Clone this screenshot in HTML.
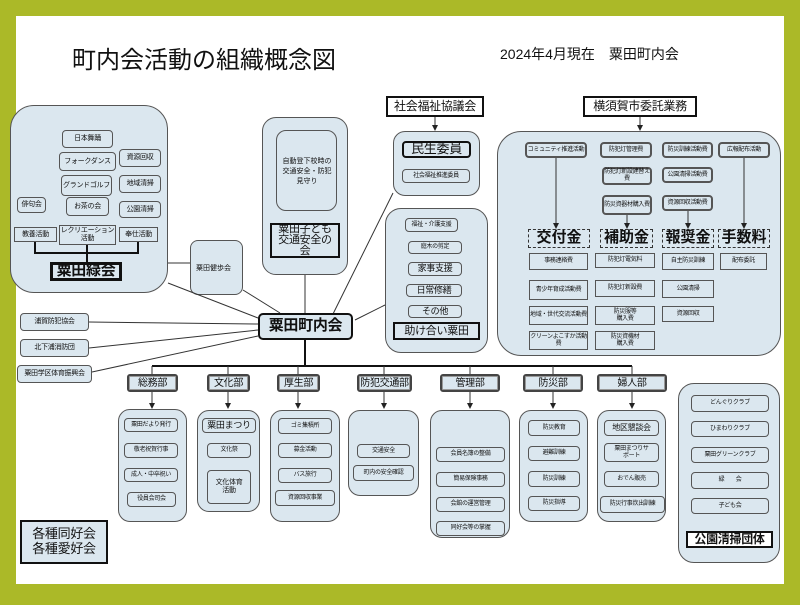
<!DOCTYPE html>
<html><head><meta charset="utf-8"><style>
*{margin:0;padding:0}
body{width:800px;height:605px;position:relative;background:#abb928;font-family:"Liberation Sans","Noto Sans CJK JP",sans-serif;overflow:hidden;color:#111}
#in{position:absolute;left:16px;top:16px;width:768px;height:568px;background:#fff}
.g{position:absolute;box-sizing:border-box;border:1px solid #555;border-radius:16px;background:#dbe7ef;z-index:1}
.b{position:absolute;box-sizing:border-box;display:flex;align-items:center;justify-content:center;text-align:center;border:1px solid #555;border-radius:4px;background:#dbe7ef;font-size:7px;line-height:1.1;z-index:3;letter-spacing:-0.3px}
.t{border:2px solid #111;border-radius:0;font-weight:bold}
.d{border:1px dashed #333;border-radius:0;background:#dbe7ef;font-size:15px;font-weight:bold;letter-spacing:0}
.dept{border:2px solid #444;border-radius:3px;font-size:10px;box-shadow:inset 0 0 0 1px #999}
.nw{white-space:nowrap}
svg{position:absolute;left:0;top:0;z-index:2}
.tx{position:absolute;z-index:3;white-space:nowrap}
</style></head><body>
<div id="in"></div>
<div class="tx" style="left:72px;top:40px;font-size:24px;">町内会活動の組織概念図</div>
<div class="tx" style="left:500px;top:44px;font-size:14px;">2024年4月現在　粟田町内会</div>

<div class="g" style="left:10px;top:105px;width:158px;height:188px;border-radius:24px"></div>
<div class="g" style="left:190px;top:240px;width:53px;height:55px;border-radius:8px"></div>
<div class="g" style="left:262px;top:117px;width:86px;height:158px;border-radius:14px"></div>
<div class="g" style="left:276px;top:130px;width:61px;height:81px;border-radius:10px"></div>
<div class="g" style="left:393px;top:131px;width:87px;height:65px;border-radius:12px"></div>
<div class="g" style="left:385px;top:208px;width:103px;height:145px;border-radius:16px"></div>
<div class="g" style="left:497px;top:131px;width:284px;height:225px;border-radius:24px"></div>
<div class="g" style="left:118px;top:409px;width:69px;height:113px;border-radius:12px"></div>
<div class="g" style="left:197px;top:410px;width:63px;height:102px;border-radius:12px"></div>
<div class="g" style="left:270px;top:410px;width:70px;height:112px;border-radius:12px"></div>
<div class="g" style="left:348px;top:410px;width:71px;height:86px;border-radius:12px"></div>
<div class="g" style="left:430px;top:410px;width:80px;height:128px;border-radius:12px"></div>
<div class="g" style="left:519px;top:410px;width:69px;height:112px;border-radius:12px"></div>
<div class="g" style="left:597px;top:410px;width:69px;height:112px;border-radius:12px"></div>
<div class="g" style="left:678px;top:383px;width:102px;height:180px;border-radius:16px"></div>

<svg width="800" height="605" viewBox="0 0 800 605" fill="none" stroke="#333" stroke-width="1">
<defs><marker id="a" markerWidth="6" markerHeight="6" refX="5" refY="3" orient="auto"><path d="M0,0 L6,3 L0,6z" fill="#222" stroke="none"/></marker></defs>
<path d="M35,242 V253 H138 V242 M87,245 V262" stroke="#111" stroke-width="2"/>
<path d="M168,263 H190"/>
<path d="M243,290 L280,313 M168,283 L258,318 M89,322 L258,324 M89,348 L258,330 M92,372 L258,336 M305,275 V313 M333,314 L393,193 M355,320 L385,305"/>
<path d="M305,340 V366 M152,366 H632" stroke="#111" stroke-width="2"/>
<path d="M152,366 V375 M228,366 V375 M298,366 V375 M384,366 V375 M470,366 V375 M553,366 V375 M632,366 V375"/>
<g marker-end="url(#a)">
<path d="M152,392 V408"/><path d="M228,392 V408"/><path d="M298,392 V408"/><path d="M384,392 V408"/><path d="M470,392 V408"/><path d="M553,392 V408"/><path d="M632,392 V408"/>
<path d="M435,116 V130"/><path d="M640,116 V130"/>
<path d="M556,158 V228"/><path d="M627,215 V228"/><path d="M688,211 V228"/><path d="M744,158 V228"/>
</g>
</svg>

<div class="b nw" style="left:62px;top:130px;width:51px;height:18px">日本舞踊</div>
<div class="b nw" style="left:59px;top:152px;width:57px;height:19px">フォークダンス</div>
<div class="b nw" style="left:119px;top:149px;width:42px;height:18px">資源回収</div>
<div class="b" style="left:61px;top:175px;width:51px;height:21px">グランドゴルフ</div>
<div class="b nw" style="left:119px;top:175px;width:42px;height:18px">地域清掃</div>
<div class="b nw" style="left:17px;top:197px;width:29px;height:16px">俳句会</div>
<div class="b nw" style="left:66px;top:197px;width:43px;height:19px">お茶の会</div>
<div class="b nw" style="left:119px;top:201px;width:42px;height:17px">公園清掃</div>
<div class="b nw" style="left:14px;top:227px;width:43px;height:15px;border-radius:0">教養活動</div>
<div class="b" style="left:59px;top:225px;width:57px;height:20px;border-radius:0">レクリエーション活動</div>
<div class="b nw" style="left:119px;top:227px;width:39px;height:15px;border-radius:0">奉仕活動</div>
<div class="b t nw" style="left:50px;top:262px;width:72px;height:19px;font-size:15px;border-width:3px">粟田緑会</div>
<div class="tx" style="left:196px;top:263px;font-size:7px">粟田健歩会</div>

<div class="tx" style="left:280px;top:157px;font-size:7px;text-align:center;width:54px;white-space:normal;line-height:1.4">自動登下校時の交通安全・防犯見守り</div>
<div class="b t" style="left:270px;top:223px;width:70px;height:35px;font-size:11px;font-weight:normal;line-height:0.98">粟田子ども<br>交通安全の<br>会</div>

<div class="b t nw" style="left:386px;top:96px;width:98px;height:21px;font-size:12px;font-weight:normal;background:#fff">社会福祉協議会</div>
<div class="b t nw" style="left:402px;top:141px;width:69px;height:17px;font-size:13px;border-radius:4px;font-weight:normal">民生委員</div>
<div class="b nw" style="left:402px;top:169px;width:68px;height:14px;font-size:6px">社会福祉推進委員</div>
<div class="b nw" style="left:405px;top:218px;width:53px;height:14px;font-size:6px">福祉・介護支援</div>
<div class="b nw" style="left:408px;top:241px;width:54px;height:13px;font-size:6px">庭木の剪定</div>
<div class="b nw" style="left:408px;top:262px;width:54px;height:14px;font-size:9px">家事支援</div>
<div class="b nw" style="left:406px;top:284px;width:56px;height:13px;font-size:9px">日常修繕</div>
<div class="b nw" style="left:408px;top:305px;width:54px;height:13px;font-size:9px">その他</div>
<div class="b t nw" style="left:393px;top:322px;width:87px;height:18px;font-size:11px;font-weight:normal">助け合い粟田</div>

<div class="b nw" style="left:258px;top:313px;width:95px;height:27px;font-size:15px;font-weight:bold;border:2px solid #111;border-radius:5px">粟田町内会</div>
<div class="b nw" style="left:20px;top:313px;width:69px;height:18px">浦賀防犯協会</div>
<div class="b nw" style="left:20px;top:339px;width:69px;height:18px">北下浦消防団</div>
<div class="b nw" style="left:17px;top:365px;width:75px;height:18px">粟田学区体育振興会</div>

<div class="b t nw" style="left:583px;top:96px;width:114px;height:21px;font-size:12px;font-weight:normal;background:#fff">横須賀市委託業務</div>
<div class="b" style="left:525px;top:142px;width:62px;height:16px;font-size:6px;border-width:2px">コミュニティ推進活動</div>
<div class="b nw" style="left:600px;top:142px;width:52px;height:16px;font-size:6px;border-width:2px">防犯灯管理費</div>
<div class="b" style="left:662px;top:142px;width:51px;height:16px;font-size:6px;border-width:2px">防災訓練活動費</div>
<div class="b nw" style="left:718px;top:142px;width:52px;height:16px;font-size:6px;border-width:2px">広報配布活動</div>
<div class="b" style="left:602px;top:167px;width:50px;height:18px;font-size:6px;border-width:2px">防犯灯新設建替え費</div>
<div class="b" style="left:662px;top:167px;width:51px;height:16px;font-size:6px;border-width:2px">公園清掃活動費</div>
<div class="b" style="left:602px;top:195px;width:50px;height:20px;font-size:6px;border-width:2px">防災資器材購入費</div>
<div class="b" style="left:662px;top:195px;width:51px;height:16px;font-size:6px;border-width:2px">資源回収活動費</div>
<div class="b d nw" style="left:528px;top:229px;width:62px;height:19px">交付金</div>
<div class="b d nw" style="left:600px;top:229px;width:53px;height:19px">補助金</div>
<div class="b d nw" style="left:662px;top:229px;width:52px;height:19px">報奨金</div>
<div class="b d nw" style="left:718px;top:229px;width:52px;height:19px">手数料</div>
<div class="b nw" style="left:529px;top:253px;width:59px;height:17px;border-radius:0;font-size:6px">事務連絡費</div>
<div class="b" style="left:529px;top:280px;width:59px;height:20px;border-radius:0;font-size:6px">青少年育成活動費</div>
<div class="b" style="left:529px;top:306px;width:59px;height:19px;border-radius:0;font-size:6px">地域・世代交流活動費</div>
<div class="b" style="left:529px;top:331px;width:59px;height:19px;border-radius:0;font-size:6px">クリーンよこすか活動費</div>
<div class="b nw" style="left:595px;top:253px;width:60px;height:15px;border-radius:0;font-size:6px">防犯灯電気料</div>
<div class="b nw" style="left:595px;top:280px;width:60px;height:17px;border-radius:0;font-size:6px">防犯灯新設費</div>
<div class="b" style="left:595px;top:306px;width:60px;height:19px;border-radius:0;font-size:6px">防災服等<br>購入費</div>
<div class="b" style="left:595px;top:331px;width:60px;height:19px;border-radius:0;font-size:6px">防災資機材<br>購入費</div>
<div class="b nw" style="left:662px;top:253px;width:52px;height:17px;border-radius:0;font-size:6px">自主防災訓練</div>
<div class="b nw" style="left:662px;top:280px;width:52px;height:18px;border-radius:0;font-size:6px">公園清掃</div>
<div class="b nw" style="left:662px;top:306px;width:52px;height:16px;border-radius:0;font-size:6px">資源回収</div>
<div class="b nw" style="left:720px;top:253px;width:47px;height:17px;border-radius:0;font-size:6px">配布委託</div>

<div class="b dept nw" style="left:127px;top:374px;width:51px;height:18px">総務部</div>
<div class="b dept nw" style="left:207px;top:374px;width:43px;height:18px">文化部</div>
<div class="b dept nw" style="left:277px;top:374px;width:43px;height:18px">厚生部</div>
<div class="b dept nw" style="left:357px;top:374px;width:55px;height:18px">防犯交通部</div>
<div class="b dept nw" style="left:440px;top:374px;width:60px;height:18px">管理部</div>
<div class="b dept nw" style="left:523px;top:374px;width:60px;height:18px">防災部</div>
<div class="b dept nw" style="left:597px;top:374px;width:70px;height:18px">婦人部</div>

<div class="b nw" style="left:124px;top:418px;width:54px;height:14px;font-size:6px">粟田だより発行</div>
<div class="b nw" style="left:124px;top:443px;width:54px;height:15px;font-size:6px">敬老祝賀行事</div>
<div class="b nw" style="left:124px;top:468px;width:54px;height:14px;font-size:6px">成人・中卒祝い</div>
<div class="b nw" style="left:127px;top:492px;width:49px;height:15px;font-size:6px">役員会司会</div>
<div class="b nw" style="left:202px;top:418px;width:54px;height:15px;font-size:9px">粟田まつり</div>
<div class="b nw" style="left:207px;top:443px;width:44px;height:15px;font-size:6px">文化祭</div>
<div class="b" style="left:207px;top:470px;width:44px;height:34px;font-size:7px">文化体育<br>活動</div>
<div class="b nw" style="left:278px;top:418px;width:54px;height:16px;font-size:6px">ゴミ集積所</div>
<div class="b nw" style="left:278px;top:443px;width:54px;height:15px;font-size:6px">募金活動</div>
<div class="b nw" style="left:278px;top:468px;width:54px;height:15px;font-size:6px">バス旅行</div>
<div class="b nw" style="left:275px;top:490px;width:60px;height:16px;font-size:6px">資源回収事業</div>
<div class="b nw" style="left:357px;top:444px;width:53px;height:14px;font-size:6px">交通安全</div>
<div class="b nw" style="left:353px;top:465px;width:61px;height:16px;font-size:6px">町内の安全確認</div>
<div class="b nw" style="left:436px;top:447px;width:69px;height:15px;font-size:6px">会員名簿の整備</div>
<div class="b nw" style="left:436px;top:472px;width:69px;height:15px;font-size:6px">簡易保険事務</div>
<div class="b nw" style="left:436px;top:497px;width:69px;height:15px;font-size:6px">会館の運営管理</div>
<div class="b nw" style="left:436px;top:521px;width:69px;height:15px;font-size:6px">同好会等の掌握</div>
<div class="b nw" style="left:528px;top:420px;width:52px;height:16px;font-size:6px">防災教育</div>
<div class="b nw" style="left:528px;top:446px;width:52px;height:15px;font-size:6px">避難訓練</div>
<div class="b nw" style="left:528px;top:471px;width:52px;height:16px;font-size:6px">防災訓練</div>
<div class="b nw" style="left:528px;top:496px;width:52px;height:15px;font-size:6px">防災指導</div>
<div class="b nw" style="left:604px;top:420px;width:55px;height:16px;font-size:8px">地区懇談会</div>
<div class="b" style="left:604px;top:443px;width:55px;height:19px;font-size:6px">粟田まつりサ<br>ポート</div>
<div class="b nw" style="left:604px;top:471px;width:55px;height:16px;font-size:6px">おでん販売</div>
<div class="b" style="left:600px;top:496px;width:65px;height:17px;font-size:6px">防災行事炊出訓練</div>
<div class="b nw" style="left:691px;top:395px;width:78px;height:17px;font-size:6px">どんぐりクラブ</div>
<div class="b nw" style="left:691px;top:421px;width:78px;height:16px;font-size:6px">ひまわりクラブ</div>
<div class="b nw" style="left:691px;top:447px;width:78px;height:16px;font-size:6px">粟田グリーンクラブ</div>
<div class="b nw" style="left:691px;top:472px;width:78px;height:17px;font-size:6px">緑　　会</div>
<div class="b nw" style="left:691px;top:498px;width:78px;height:16px;font-size:6px">子ども会</div>
<div class="b t nw" style="left:686px;top:531px;width:87px;height:17px;font-size:12px;background:#fff;border-width:2px">公園清掃団体</div>

<div class="b t" style="left:20px;top:520px;width:88px;height:44px;font-size:13px;font-weight:normal;line-height:1.15">各種同好会<br>各種愛好会</div>
</body></html>
